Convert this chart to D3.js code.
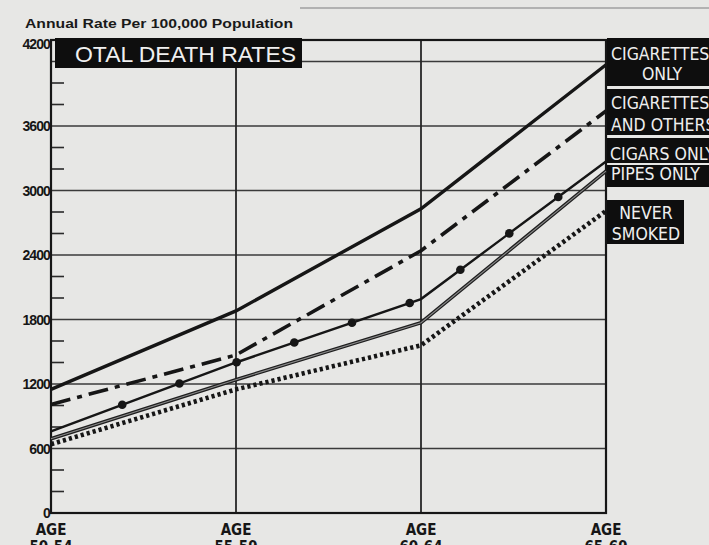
<!DOCTYPE html>
<html>
<head>
<meta charset="utf-8">
<script src="https://cdn.jsdelivr.net/npm/d3@7"></script>
<style>
  html, body { margin: 0; padding: 0; background: #e7e7e5; }
  svg { display: block; }
</style>
</head>
<body>
<svg id="chart" width="709" height="545"></svg>
<script>
// ---------- DATA ----------
const ages = ["50-54", "55-59", "60-64", "65-69"];
const cigarettesOnly   = [1150, 1880, 2830, 4170];
const cigarettesOthers = [1010, 1470, 2440, 3740];
const cigarsOnly       = [760, 1400, 1990, 3270];
const pipesOnly        = [690, 1240, 1770, 3180];
const neverSmoked      = [640, 1150, 1560, 2810];
const yTickValues = [0, 600, 1200, 1800, 2400, 3000, 3600, 4200];
const yMinorValues = d3.range(0, 4201, 200);
const titleText = "OTAL DEATH RATES";
const unitText = "Annual Rate Per 100,000 Population";

(function () {
// ---------- LAYOUT ----------
const svg = d3.select("#chart");
const pLeft = 51, pRight = 606, pTop = 40, pBottom = 513;
const x = d3.scalePoint().domain(ages).range([pLeft, pRight]);
const y = d3.scaleLinear().domain([0, 4400]).range([pBottom, pTop]);
const ink = "#161616";
const narrow = "'Liberation Sans Narrow','DejaVu Sans Condensed','Liberation Sans',sans-serif";

// stray newspaper rule at top right
svg.append("line").attr("x1", 300).attr("x2", 709).attr("y1", 8).attr("y2", 8)
  .attr("stroke", "#a0a0a0").attr("stroke-width", 1.5);

// horizontal gridlines
svg.append("g").selectAll("line").data(yTickValues.filter(d => d > 0)).join("line")
  .attr("x1", pLeft).attr("x2", pRight)
  .attr("y1", d => y(d)).attr("y2", d => y(d))
  .attr("stroke", "#3a3a3a").attr("stroke-width", 1.6);

// vertical gridlines
svg.append("g").selectAll("line").data(ages.slice(1, 3)).join("line")
  .attr("x1", d => x(d)).attr("x2", d => x(d))
  .attr("y1", pTop).attr("y2", pBottom)
  .attr("stroke", "#262626").attr("stroke-width", 1.8);

// minor ticks
svg.append("g").selectAll("line")
  .data(yMinorValues.filter(d => d % 600 !== 0)).join("line")
  .attr("x1", pLeft).attr("x2", pLeft + 13)
  .attr("y1", d => y(d)).attr("y2", d => y(d))
  .attr("stroke", "#2a2a2a").attr("stroke-width", 1.6);

// frame
svg.append("rect").attr("x", pLeft).attr("y", pTop)
  .attr("width", pRight - pLeft).attr("height", pBottom - pTop)
  .attr("fill", "none").attr("stroke", ink).attr("stroke-width", 2.2);

// y axis labels (via d3 axis)
const yAxis = d3.axisLeft(y).tickValues(yTickValues).tickSize(0).tickPadding(1)
  .tickFormat(d3.format("d"));
const gy = svg.append("g").attr("transform", `translate(${pLeft},0)`).call(yAxis);
gy.select(".domain").remove();
gy.selectAll("text")
  .attr("font-family", "'Liberation Sans',Arial,sans-serif")
  .attr("font-weight", "bold").attr("font-size", 14).attr("fill", ink)
  .attr("letter-spacing", "-0.9")
  .attr("dy", d => d === 4200 ? "-0.9em" : "0.34em");

// x axis labels
const gx = svg.append("g");
ages.forEach(a => {
  const t = gx.append("text").attr("x", x(a)).attr("y", 535)
    .attr("text-anchor", "middle")
    .attr("font-family", narrow).attr("font-weight", "bold")
    .attr("font-size", 15).attr("fill", ink);
  t.append("tspan").attr("x", x(a)).text("AGE");
  t.append("tspan").attr("x", x(a)).attr("dy", 17).text(a);
});

// ---------- LINES ----------
const line = d3.line().x((d, i) => x(ages[i])).y(d => y(d));

// never smoked - heavy dotted
svg.append("path").attr("d", line(neverSmoked))
  .attr("fill", "none").attr("stroke", ink).attr("stroke-width", 4.6)
  .attr("stroke-dasharray", "3.2,3");

// pipes only - double line
svg.append("path").attr("d", line(pipesOnly))
  .attr("fill", "none").attr("stroke", "#1e1e1e").attr("stroke-width", 3.6);
svg.append("path").attr("d", line(pipesOnly))
  .attr("fill", "none").attr("stroke", "#8a8a8a").attr("stroke-width", 1.1);

// cigars only - solid with dots
const cigPath = svg.append("path").attr("d", line(cigarsOnly))
  .attr("fill", "none").attr("stroke", ink).attr("stroke-width", 2.4);
const pNode = cigPath.node();
const total = pNode.getTotalLength();
const markerLens = d3.range(76, total - 30, 61);
svg.append("g").selectAll("circle").data(markerLens).join("circle")
  .attr("cx", l => pNode.getPointAtLength(l).x)
  .attr("cy", l => pNode.getPointAtLength(l).y)
  .attr("r", 4.3).attr("fill", ink);

// cigarettes and others - dash dot
svg.append("path").attr("d", line(cigarettesOthers))
  .attr("fill", "none").attr("stroke", ink).attr("stroke-width", 3.6)
  .attr("stroke-dasharray", "20,7,5,7");

// cigarettes only - heavy solid
svg.append("path").attr("d", line(cigarettesOnly))
  .attr("fill", "none").attr("stroke", ink).attr("stroke-width", 3.4);

// ---------- TITLE ----------
svg.append("rect").attr("x", 55).attr("y", 38).attr("width", 247).attr("height", 30)
  .attr("fill", "#0e0e0e");
svg.append("text").attr("x", 75).attr("y", 62)
  .attr("font-family", "'Liberation Sans',Arial,sans-serif")
  .attr("font-size", 22).attr("fill", "#f0f0f0")
  .attr("textLength", 221).attr("lengthAdjust", "spacingAndGlyphs")
  .text(titleText);

svg.append("text").attr("x", 25).attr("y", 28)
  .attr("font-family", "'Liberation Sans',Arial,sans-serif")
  .attr("font-weight", "bold").attr("font-size", 12.5).attr("fill", "#1a1a1a")
  .attr("textLength", 268).attr("lengthAdjust", "spacingAndGlyphs")
  .text(unitText);

// ---------- RIGHT LABELS ----------
const labelBoxes = [
  { y0: 38, y1: 86, x1: 712, lines: [["CIGARETTES", 60, 611, "start"], ["ONLY", 80, 662, "middle"]] },
  { y0: 89, y1: 135, x1: 712, lines: [["CIGARETTES", 109, 611, "start"], ["AND OTHERS", 131, 611, "start"]] },
  { y0: 138, y1: 163, x1: 712, lines: [["CIGARS ONLY", 160, 610, "start"]] },
  { y0: 165, y1: 187, x1: 712, lines: [["PIPES ONLY", 180, 611, "start"]] },
  { y0: 200, y1: 244, x1: 684, lines: [["NEVER", 219, 646, "middle"], ["SMOKED", 240, 646, "middle"]] }
];
const lg = svg.append("g");
labelBoxes.forEach(b => {
  lg.append("rect").attr("x", 607).attr("y", b.y0)
    .attr("width", b.x1 - 607).attr("height", b.y1 - b.y0).attr("fill", "#0e0e0e");
  b.lines.forEach(([t, yy, xx, anchor]) => {
    lg.append("text").attr("x", xx).attr("y", yy).attr("text-anchor", anchor)
      .attr("font-family", narrow).attr("font-size", 17.5)
      .attr("fill", "#eeeeee").text(t);
  });
});
})();
</script>
</body>
</html>
